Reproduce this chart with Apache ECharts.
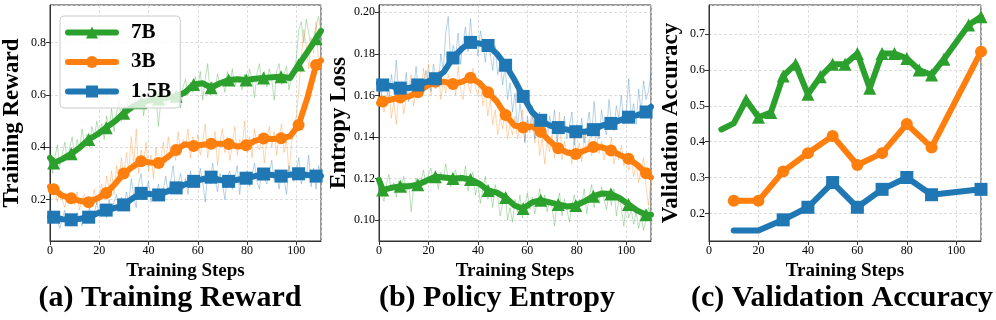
<!DOCTYPE html>
<html>
<head>
<meta charset="utf-8">
<script src="https://cdn.jsdelivr.net/npm/echarts@6/dist/echarts.min.js"></script>
<style>html,body{margin:0;padding:0;background:#fff}#c{width:996px;height:320px}</style>
</head>
<body>
<div id="c"></div>
<script>
// ---------------- DATA ----------------
const models = ['7B', '3B', '1.5B'];
const steps = Array.from({length: 111}, (_, i) => i); // training steps 0..110
// smoothed-curve sample steps (markers on odd indices)
const smoothSteps = [0, 1.5, 5, 8.6, 12.2, 15.7, 19.3, 22.8, 26.4, 29.9, 33.5, 37, 40.6, 44.1, 47.7, 51.2, 54.8, 58.3, 61.9, 65.4, 69, 72.5, 76.1, 79.6, 83.2, 86.7, 90.3, 93.8, 97.4, 100.9, 104.5, 108, 110];

// (a) Training reward - raw
const rewardRaw7B = [0.38,0.30,0.36,0.41,0.33,0.37,0.42,0.35,0.40,0.44,
0.36,0.43,0.39,0.47,0.41,0.45,0.40,0.48,0.44,0.50,
0.45,0.49,0.43,0.52,0.47,0.55,0.46,0.53,0.58,0.50,
0.56,0.52,0.60,0.54,0.64,0.55,0.59,0.62,0.52,0.60,
0.57,0.63,0.55,0.60,0.48,0.58,0.65,0.56,0.61,0.59,
0.62,0.57,0.60,0.55,0.63,0.66,0.60,0.65,0.61,0.67,
0.63,0.69,0.58,0.66,0.72,0.60,0.65,0.62,0.68,0.64,
0.66,0.61,0.69,0.64,0.70,0.63,0.67,0.65,0.62,0.68,
0.64,0.70,0.66,0.59,0.68,0.72,0.65,0.69,0.63,0.70,
0.66,0.58,0.69,0.72,0.64,0.68,0.71,0.62,0.67,0.70,
0.74,0.85,0.88,0.80,0.89,0.84,0.78,0.82,0.86,0.90,0.84];
const rewardRaw3B = [0.26,0.22,0.24,0.19,0.23,0.20,0.17,0.22,0.19,0.21,
0.18,0.23,0.16,0.20,0.22,0.17,0.21,0.19,0.24,0.18,
0.22,0.26,0.20,0.29,0.24,0.31,0.22,0.33,0.27,0.36,
0.29,0.38,0.31,0.44,0.33,0.47,0.30,0.39,0.34,0.42,
0.31,0.37,0.28,0.40,0.33,0.36,0.42,0.34,0.44,0.37,
0.41,0.35,0.46,0.38,0.43,0.40,0.47,0.36,0.44,0.39,
0.45,0.37,0.42,0.49,0.36,0.43,0.40,0.46,0.33,0.42,
0.47,0.38,0.44,0.35,0.41,0.48,0.37,0.43,0.40,0.50,
0.38,0.44,0.36,0.47,0.41,0.39,0.45,0.34,0.43,0.48,
0.40,0.46,0.37,0.44,0.49,0.38,0.43,0.30,0.41,0.47,
0.52,0.62,0.74,0.85,0.79,0.70,0.82,0.76,0.88,0.72,0.75];
const rewardRaw15B = [0.14,0.11,0.15,0.12,0.09,0.13,0.16,0.10,0.12,0.14,
0.11,0.15,0.13,0.10,0.14,0.12,0.17,0.13,0.15,0.19,
0.14,0.18,0.16,0.13,0.20,0.15,0.19,0.22,0.16,0.21,
0.17,0.23,0.19,0.28,0.21,0.17,0.26,0.30,0.20,0.24,
0.27,0.19,0.23,0.21,0.26,0.20,0.24,0.29,0.22,0.27,
0.33,0.23,0.26,0.30,0.24,0.28,0.22,0.31,0.26,0.29,
0.25,0.32,0.27,0.19,0.30,0.26,0.34,0.28,0.23,0.30,
0.26,0.20,0.29,0.31,0.24,0.28,0.33,0.22,0.30,0.27,
0.31,0.25,0.29,0.34,0.27,0.24,0.32,0.28,0.26,0.30,
0.35,0.27,0.30,0.24,0.31,0.28,0.22,0.33,0.29,0.27,
0.31,0.36,0.26,0.30,0.28,0.37,0.25,0.32,0.24,0.33,0.29];
// (a) Training reward - smoothed
const rewardSmooth7B = [0.36,0.34,0.355,0.375,0.40,0.43,0.45,0.475,0.50,0.53,0.555,0.57,0.58,0.585,0.59,0.595,0.61,0.64,0.645,0.628,0.645,0.657,0.66,0.657,0.662,0.665,0.668,0.67,0.665,0.715,0.765,0.815,0.845];
const rewardSmooth3B = [0.25,0.24,0.215,0.205,0.195,0.19,0.205,0.225,0.26,0.30,0.325,0.347,0.342,0.34,0.362,0.39,0.412,0.405,0.41,0.414,0.414,0.413,0.403,0.408,0.425,0.434,0.432,0.435,0.442,0.485,0.59,0.715,0.732];
const rewardSmooth15B = [0.135,0.133,0.125,0.123,0.127,0.133,0.148,0.16,0.168,0.18,0.205,0.224,0.222,0.218,0.232,0.245,0.258,0.27,0.278,0.286,0.275,0.27,0.276,0.282,0.29,0.298,0.294,0.29,0.295,0.299,0.294,0.29,0.29];

// (b) Policy entropy - raw
const entropyRaw7B = [0.120,0.113,0.109,0.117,0.122,0.114,0.118,0.111,0.119,0.116,
0.121,0.113,0.118,0.104,0.116,0.120,0.114,0.119,0.124,0.117,
0.122,0.125,0.118,0.121,0.115,0.123,0.119,0.127,0.120,0.116,
0.121,0.124,0.117,0.122,0.119,0.126,0.114,0.120,0.123,0.112,
0.118,0.108,0.115,0.121,0.110,0.114,0.106,0.117,0.111,0.102,
0.108,0.113,0.100,0.106,0.099,0.110,0.104,0.112,0.101,0.107,
0.113,0.105,0.111,0.103,0.109,0.115,0.107,0.112,0.104,0.110,
0.106,0.097,0.108,0.113,0.102,0.110,0.105,0.099,0.107,0.112,
0.104,0.110,0.108,0.115,0.103,0.111,0.117,0.106,0.113,0.108,
0.116,0.110,0.105,0.113,0.107,0.115,0.102,0.110,0.106,0.097,
0.108,0.101,0.105,0.098,0.104,0.096,0.102,0.095,0.100,0.106,0.103];
const entropyRaw3B = [0.155,0.160,0.152,0.158,0.163,0.149,0.157,0.146,0.161,0.165,
0.151,0.158,0.163,0.170,0.155,0.162,0.168,0.159,0.173,0.164,
0.175,0.160,0.169,0.163,0.172,0.158,0.167,0.161,0.170,0.164,
0.168,0.160,0.174,0.163,0.158,0.170,0.166,0.161,0.173,0.164,
0.160,0.167,0.155,0.162,0.150,0.158,0.146,0.153,0.141,0.149,
0.144,0.152,0.139,0.146,0.141,0.150,0.139,0.145,0.153,0.138,
0.148,0.142,0.150,0.137,0.145,0.131,0.140,0.127,0.138,0.133,
0.141,0.130,0.136,0.152,0.129,0.138,0.131,0.134,0.127,0.140,
0.130,0.137,0.128,0.142,0.133,0.139,0.131,0.136,0.143,0.132,
0.138,0.129,0.135,0.131,0.140,0.127,0.133,0.129,0.136,0.126,
0.131,0.124,0.129,0.121,0.127,0.118,0.125,0.130,0.116,0.107,0.120];
const entropyRaw15B = [0.166,0.160,0.168,0.163,0.158,0.170,0.162,0.177,0.159,0.165,
0.161,0.171,0.157,0.167,0.163,0.174,0.160,0.168,0.164,0.172,
0.166,0.162,0.175,0.169,0.164,0.180,0.172,0.190,0.198,0.176,
0.184,0.179,0.190,0.175,0.186,0.193,0.181,0.197,0.183,0.188,
0.179,0.191,0.185,0.176,0.187,0.180,0.172,0.184,0.170,0.176,
0.165,0.174,0.158,0.166,0.152,0.161,0.144,0.156,0.148,0.137,
0.150,0.143,0.155,0.139,0.148,0.152,0.141,0.146,0.138,0.150,
0.144,0.153,0.137,0.147,0.142,0.150,0.139,0.145,0.152,0.136,
0.146,0.141,0.149,0.137,0.144,0.152,0.140,0.157,0.143,0.139,
0.153,0.145,0.141,0.158,0.147,0.143,0.155,0.149,0.160,0.146,
0.152,0.168,0.150,0.156,0.146,0.163,0.152,0.167,0.158,0.162,0.171];
// (b) Policy entropy - smoothed
const entropySmooth7B = [0.1193,0.1145,0.1155,0.1162,0.1163,0.117,0.119,0.1208,0.1205,0.12,0.1202,0.1195,0.1175,0.1142,0.1132,0.1108,0.107,0.1055,0.1085,0.1095,0.1085,0.1075,0.1065,0.107,0.109,0.1115,0.1128,0.1125,0.1105,0.1075,0.1045,0.1025,0.1025];
const entropySmooth3B = [0.1562,0.157,0.158,0.159,0.1595,0.1615,0.1645,0.1665,0.1665,0.1655,0.1665,0.1685,0.166,0.1615,0.157,0.1505,0.1455,0.1445,0.145,0.1425,0.138,0.1345,0.1325,0.1318,0.1335,0.1352,0.135,0.1335,0.1313,0.1295,0.1265,0.1225,0.1205];
const entropySmooth15B = [0.1658,0.165,0.1645,0.1635,0.1635,0.165,0.1665,0.168,0.1715,0.178,0.1825,0.1855,0.185,0.184,0.18,0.1745,0.1675,0.1595,0.152,0.148,0.1455,0.1445,0.1435,0.1425,0.1425,0.1435,0.1455,0.1465,0.148,0.1495,0.1505,0.152,0.1545];

// (c) Validation accuracy
const valSteps7B = [5,10,15,20,25,30,35,40,45,50,55,60,65,70,75,80,85,90,95,105,110];
const valAcc7B = [0.434,0.451,0.516,0.468,0.481,0.583,0.616,0.532,0.581,0.616,0.616,0.646,0.549,0.646,0.646,0.632,0.600,0.586,0.630,0.725,0.748];
const valSteps3B = [10,20,30,40,50,60,70,80,90,110];
const valAcc3B = [0.235,0.235,0.317,0.368,0.416,0.335,0.368,0.449,0.384,0.651];
const valSteps15B = [10,20,30,40,50,60,70,80,90,110];
const valAcc15B = [0.152,0.152,0.182,0.217,0.286,0.217,0.267,0.300,0.252,0.267];

const xTicks = [0, 20, 40, 60, 80, 100];
const captions = ['(a) Training Reward', '(b) Policy Entropy', '(c) Validation Accuracy'];
const yNames = ['Training Reward', 'Entropy Loss', 'Validation Accuracy'];
const xName = 'Training Steps';

// ---------------- STYLE ----------------
const SERIF = "'Liberation Serif', 'Times New Roman', 'DejaVu Serif', serif";
const COLORS = {'7B': '#2ca02c', '3B': '#ff7f0e', '1.5B': '#1f77b4'};
const SHAPES = {'7B': 'triangle', '3B': 'circle', '1.5B': 'rect'};
const gridsPos = [49, 379, 709];
const yRanges = [[0.042, 0.944], [0.0899, 0.2035], [0.123, 0.781]];
const yFmt = [v => v.toFixed(1), v => v.toFixed(2), v => v.toFixed(1)];

const grids = gridsPos.map(l => ({left: l, top: 5, width: 272, height: 236, show: true, borderColor: '#333', borderWidth: 1, backgroundColor: 'transparent'}));

const xAxes = grids.map((g, i) => ({
  type: 'value', gridIndex: i, min: 0, max: 110, interval: 20,
  name: xName, nameLocation: 'middle', nameGap: 18,
  nameTextStyle: {fontFamily: SERIF, fontWeight: 'bold', fontSize: 19, color: '#000'},
  axisLine: {show: true, onZero: false, lineStyle: {color: '#333', width: 1}},
  axisTick: {show: true, inside: false, length: 4, lineStyle: {color: '#333'}},
  axisLabel: {fontFamily: SERIF, fontSize: 12, color: '#000', margin: 4, showMaxLabel: false},
  splitLine: {show: true, lineStyle: {type: [3, 2], color: '#d4d4d4', width: 0.8}}
}));

const yAxes = grids.map((g, i) => ({
  type: 'value', gridIndex: i, min: yRanges[i][0], max: yRanges[i][1], splitNumber: 5,
  name: yNames[i], nameLocation: 'middle', nameGap: 26, nameRotate: 90,
  nameTextStyle: {fontFamily: SERIF, fontWeight: 'bold', fontSize: 23, color: '#000'},
  axisLine: {show: true, onZero: false, lineStyle: {color: '#333', width: 1}},
  axisTick: {show: true, inside: false, length: 4, lineStyle: {color: '#333'}},
  axisLabel: {fontFamily: SERIF, fontSize: 12, color: '#000', margin: 4, showMinLabel: false, showMaxLabel: false, formatter: yFmt[i]},
  splitLine: {show: true, lineStyle: {type: [3, 2], color: '#d4d4d4', width: 0.8}}
}));

function thick(name, axis, xs, ys, markFn) {
  return {
    name: name, type: 'line', xAxisIndex: axis, yAxisIndex: axis, z: 3,
    symbol: SHAPES[name], symbolSize: name === '3B' ? 12 : 13, showAllSymbol: true,
    lineStyle: {color: COLORS[name], width: 6, join: 'round', cap: 'round'},
    itemStyle: {color: COLORS[name]},
    emphasis: {disabled: true}, animation: false,
    data: xs.map((x, k) => markFn(k) ? [x, ys[k]] : {value: [x, ys[k]], symbol: 'none'})
  };
}
function raw(name, axis, ys) {
  return {
    name: name + ' raw', type: 'line', xAxisIndex: axis, yAxisIndex: axis, z: 2,
    symbol: 'none', lineStyle: {color: COLORS[name], width: 1, opacity: 0.32},
    emphasis: {disabled: true}, animation: false,
    data: steps.map((x, k) => [x, ys[k]])
  };
}
const odd = k => k % 2 === 1;

const series = [
  thick('7B', 0, smoothSteps, rewardSmooth7B, odd),
  thick('3B', 0, smoothSteps, rewardSmooth3B, odd),
  thick('1.5B', 0, smoothSteps, rewardSmooth15B, odd),
  raw('7B', 0, rewardRaw7B), raw('3B', 0, rewardRaw3B), raw('1.5B', 0, rewardRaw15B),
  thick('7B', 1, smoothSteps, entropySmooth7B, odd),
  thick('3B', 1, smoothSteps, entropySmooth3B, odd),
  thick('1.5B', 1, smoothSteps, entropySmooth15B, odd),
  raw('7B', 1, entropyRaw7B), raw('3B', 1, entropyRaw3B), raw('1.5B', 1, entropyRaw15B),
  thick('7B', 2, valSteps7B, valAcc7B, k => k >= 2),
  thick('3B', 2, valSteps3B, valAcc3B, k => true),
  thick('1.5B', 2, valSteps15B, valAcc15B, k => k >= 2)
];

const capX = [170, 497, 842];
const graphics = captions.map((t, i) => ({
  type: 'text', x: capX[i], y: 298, z: 10,
  style: {text: t, fill: '#000', font: "bold 30px " + SERIF, textAlign: 'center', textVerticalAlign: 'middle'}
}));

const chart = echarts.init(document.getElementById('c'), null, {renderer: 'canvas'});
chart.setOption({
  animation: false,
  grid: grids, xAxis: xAxes, yAxis: yAxes, series: series,
  legend: {
    data: models, orient: 'vertical', left: 60, top: 16,
    backgroundColor: 'rgba(255,255,255,0.8)', borderColor: '#cccccc', borderWidth: 1, borderRadius: 4,
    padding: [6, 9, 6, 5], itemWidth: 48, itemHeight: 15, itemGap: 8.5,
    lineStyle: {width: 6},
    textStyle: {fontFamily: SERIF, fontWeight: 'bold', fontSize: 21, color: '#000', padding: [0, 0, 0, 10]},
    selectedMode: false, z: 20
  },
  graphic: graphics
});
</script>
</body>
</html>
